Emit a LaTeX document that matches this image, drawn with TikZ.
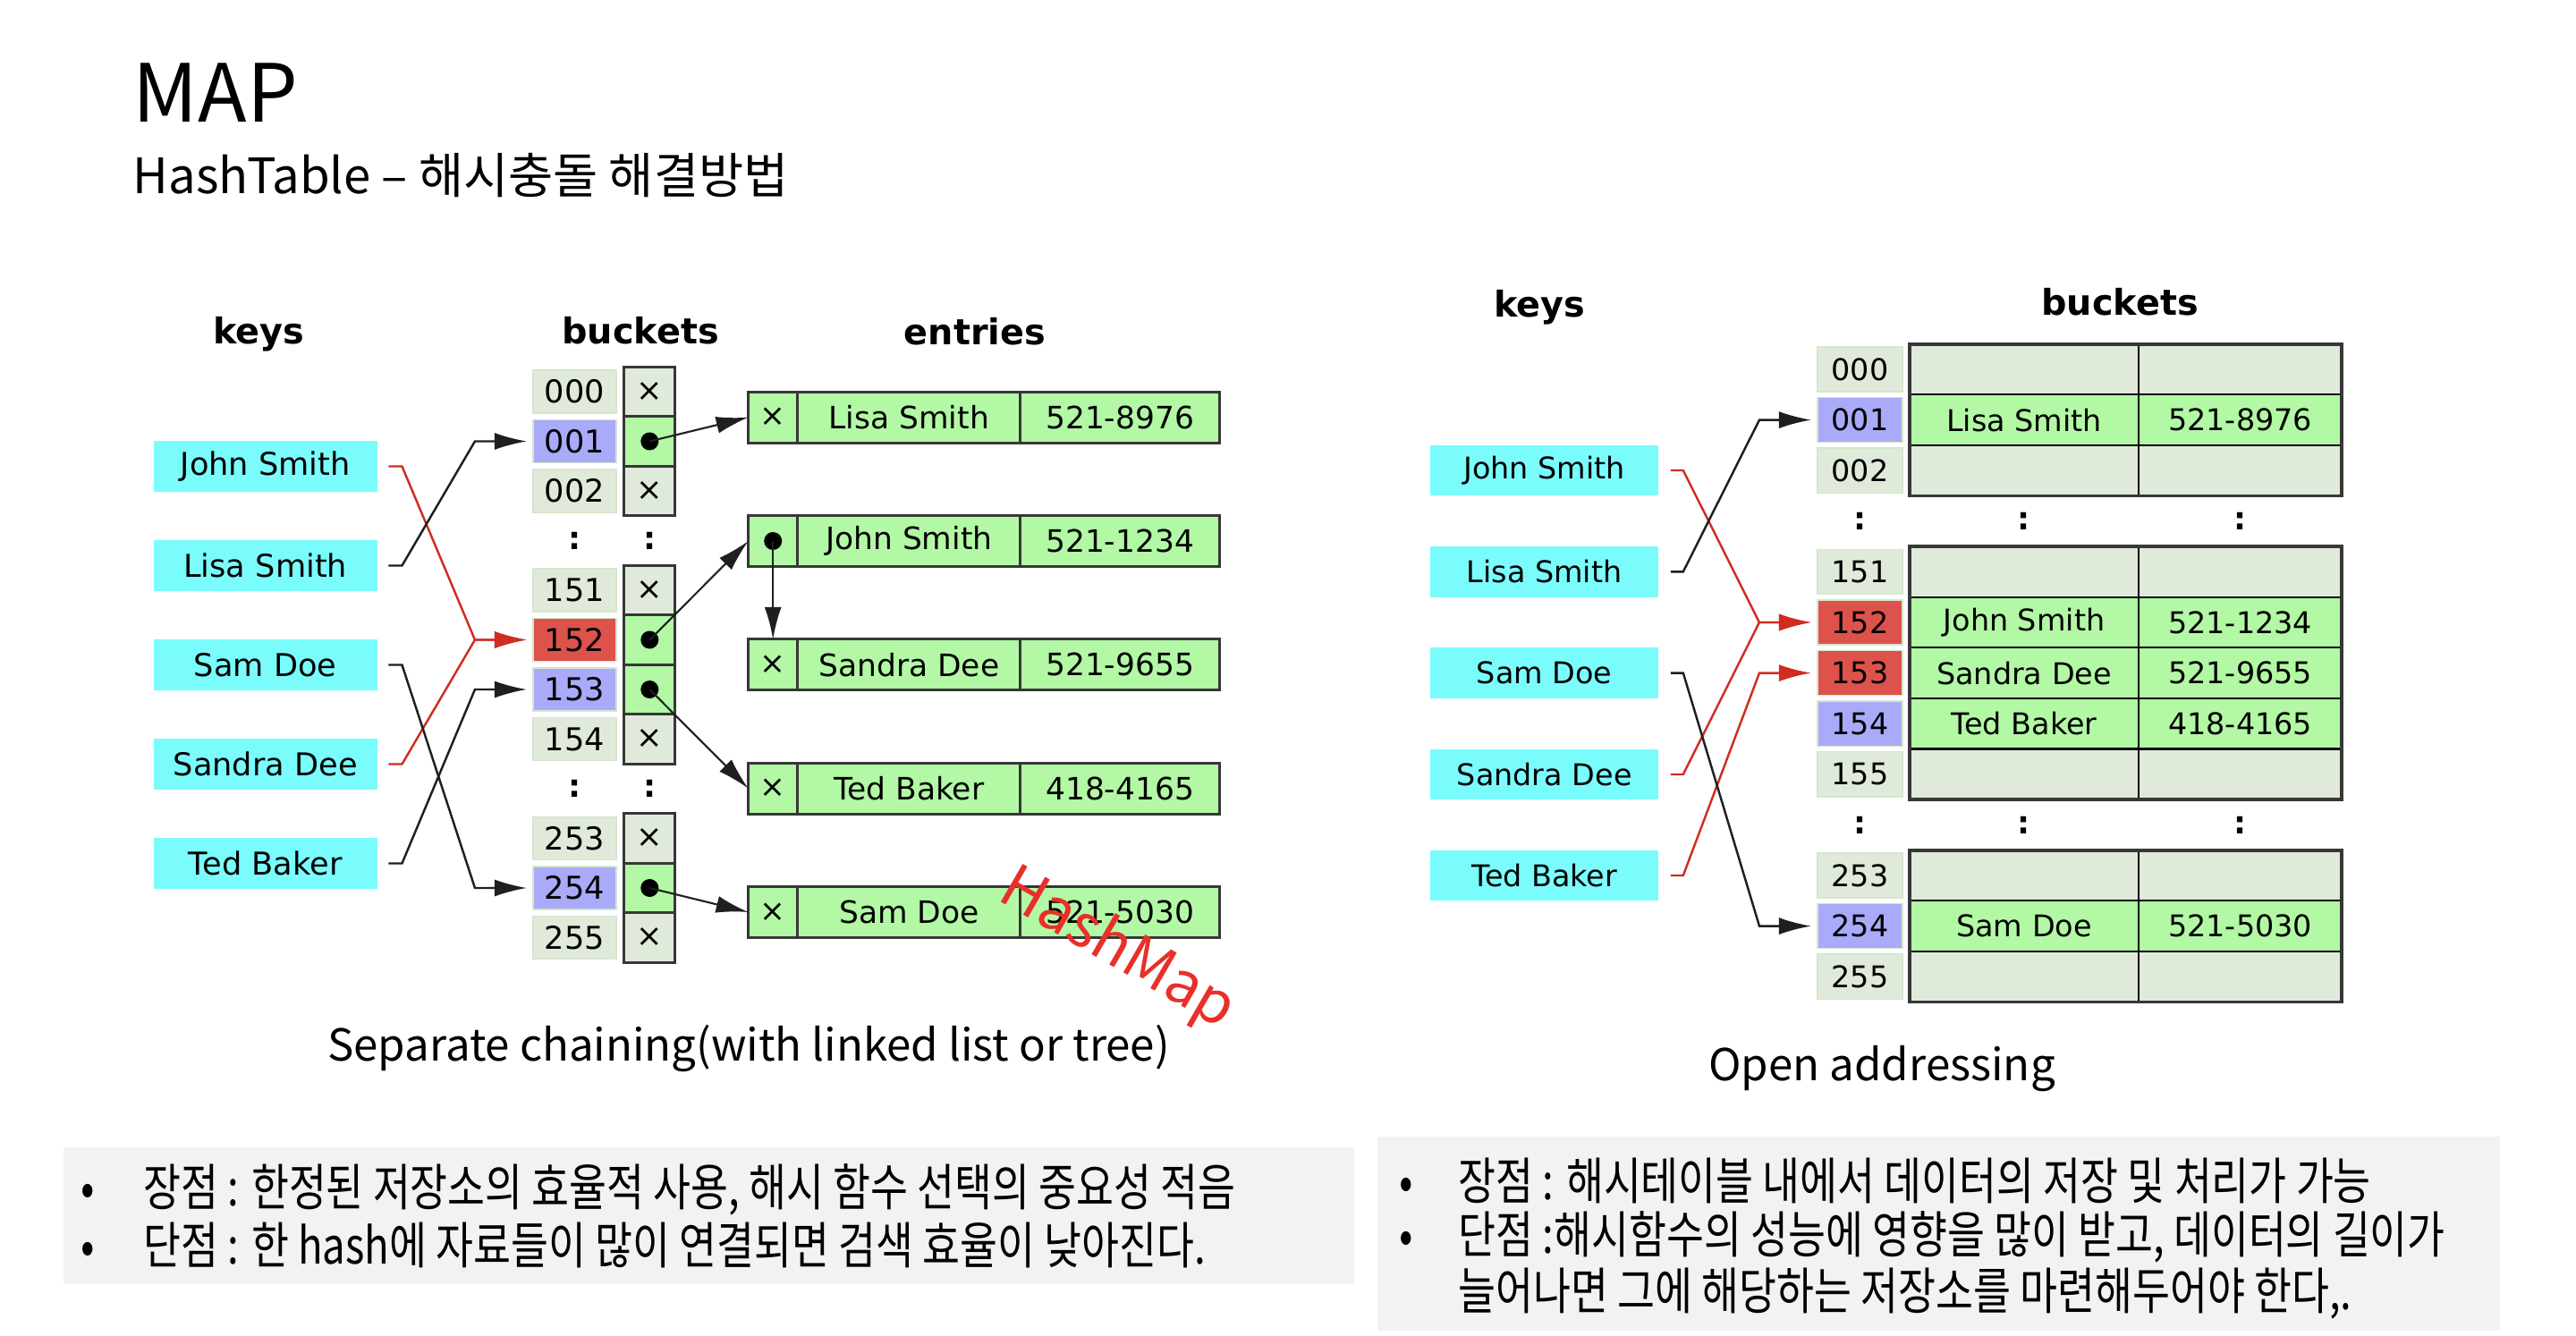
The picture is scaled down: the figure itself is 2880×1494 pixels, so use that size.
\documentclass[tikz,border=0pt]{standalone}
\usepackage{fontspec}
\setmainfont{DejaVu Sans}
\newfontfamily\hand{Noto Sans CJK KR}
\newfontfamily\handnarrow[FakeStretch=0.81]{Noto Sans CJK KR}
\usetikzlibrary{calc,positioning,arrows.meta}
\definecolor{keycyan}{RGB}{122,252,252}
\definecolor{cellgray}{RGB}{224,234,218}
\definecolor{cellline}{RGB}{212,230,204}
\definecolor{cellblue}{RGB}{170,170,250}
\definecolor{cellred}{RGB}{222,82,76}
\definecolor{cellgreen}{RGB}{178,248,165}
\definecolor{frame}{RGB}{55,55,55}
\definecolor{linkred}{RGB}{208,44,34}
\definecolor{notegray}{RGB}{242,242,242}
\definecolor{stampred}{RGB}{232,48,40}

\begin{document}
\begin{tikzpicture}[
  x=0.01cm, y=-0.01cm,
  hdr/.style={font=\fontsize{11.3}{13}\selectfont\bfseries, anchor=base},
  keybox/.style={fill=keycyan, minimum width=2.5cm, minimum height=0.56cm,
    inner sep=0pt, font=\fontsize{10}{12}\selectfont},
  idx/.style={fill=cellgray, draw=cellline, line width=0.4pt, minimum width=0.93cm,
    minimum height=0.48cm, inner sep=0pt, outer sep=0pt, font=\fontsize{10}{12}\selectfont},
  ptr/.style={draw=frame, line width=0.85pt, minimum width=0.573cm,
    minimum height=0.555cm, inner sep=0pt, outer sep=0pt, font=\fontsize{10}{12}\selectfont},
  ent/.style={fill=cellgreen, draw=frame, line width=0.85pt, minimum height=0.57cm,
    inner sep=0pt, outer sep=0pt, font=\fontsize{9.8}{12}\selectfont},
  oa/.style={draw=black, line width=0.6pt, minimum height=0.566cm,
    inner sep=0pt, outer sep=0pt, font=\fontsize{9.5}{12}\selectfont},
  vdots/.style={font=\fontsize{10}{12}\selectfont\bfseries},
  arr/.style={-{Latex[length=0.36cm, width=0.19cm]}, line width=0.7pt, black!88},
  redarr/.style={arr, linkred},
  hand/.style={font=\hand\fontsize{#1}{#1}\selectfont, inner sep=0pt},
  note/.style={font=\handnarrow\fontsize{16}{19}\selectfont, inner sep=0pt, anchor=west},
]
  \useasboundingbox (0,0) rectangle (2880,1494);

  % titles
  \node[hand=25.5, anchor=base west] (title) at (148,137) {MAP};
  \node[hand=15.5, anchor=base west] (subtitle) at (148,217) {HashTable – 해시충돌 해결방법};

  % ---------- separate chaining ----------
  \node[hdr] (lkeys) at (289.5,385) {keys};
  \node[hdr] (lbuckets) at (716,385) {buckets};
  \node[hdr] (lentries) at (1090,386) {entries};

  \foreach \k/\nm/\y in {john/John Smith/521.5, lisa/Lisa Smith/632.5, sam/Sam Doe/743.5,
                         sandra/Sandra Dee/854.5, ted/Ted Baker/965.5}
    \node[keybox] (k\k) at (296.7,\y) {\nm};

  \foreach \n/\y/\ic/\pc/\s in {000/438/cellgray/cellgray/×, 001/493.5/cellblue/cellgreen/{},
      002/549/cellgray/cellgray/×, 151/660/cellgray/cellgray/×, 152/715.5/cellred/cellgreen/{},
      153/771/cellblue/cellgreen/{}, 154/826.5/cellgray/cellgray/×, 253/937.5/cellgray/cellgray/×,
      254/993/cellblue/cellgreen/{}, 255/1048.5/cellgray/cellgray/×} {
    \node[idx, fill=\ic] (i\n) at (642.5,\y) {\n};
    \node[ptr, fill=\pc] (p\n) at (726.3,\y) {\s};
  }
  \foreach \n in {001,152,153,254}
    \fill (p\n) circle (0.1cm);

  \node[vdots] (id1) at ($(i002)!0.5!(i151)$) {:};
  \node[vdots] (pd1) at ($(p002)!0.5!(p151)$) {:};
  \node[vdots] (id2) at ($(i154)!0.5!(i253)$) {:};
  \node[vdots] (pd2) at ($(p154)!0.5!(p253)$) {:};

  \foreach \e/\y/\nm/\ph/\s in {lisa/466.7/Lisa Smith/521-8976/×, john/605/John Smith/521-1234/{},
      sandra/743.3/Sandra Dee/521-9655/×, ted/881.7/Ted Baker/418-4165/×, sam/1020/Sam Doe/521-5030/×} {
    \node[ent, minimum width=0.55cm] (\e-x) at (864.2,\y) {\s};
    \node[ent, minimum width=2.49cm, right=0pt of \e-x] (\e-n) {\nm};
    \node[ent, minimum width=2.224cm, right=0pt of \e-n] (\e-p) {\ph};
  }
  \fill (john-x) circle (0.1cm);

  \draw[redarr, shorten <=0.12cm, shorten >=0.07cm] (kjohn.east) -- ++(27,0) -- ($(i152.west)+(-65,0)$) -- (i152.west);
  \draw[redarr, shorten <=0.12cm, shorten >=0.07cm] (ksandra.east) -- ++(27,0) -- ($(i152.west)+(-65,0)$) -- (i152.west);
  \draw[arr, shorten <=0.12cm, shorten >=0.07cm] (klisa.east) -- ++(27,0) -- ($(i001.west)+(-65,0)$) -- (i001.west);
  \draw[arr, shorten <=0.12cm, shorten >=0.07cm] (ksam.east) -- ++(27,0) -- ($(i254.west)+(-65,0)$) -- (i254.west);
  \draw[arr, shorten <=0.12cm, shorten >=0.07cm] (kted.east) -- ++(27,0) -- ($(i153.west)+(-65,0)$) -- (i153.west);

  \draw[arr, line width=0.6pt] (p001.center) -- (lisa-x.west);
  \draw[arr, line width=0.6pt] (p152.center) -- (john-x.west);
  \draw[arr, line width=0.6pt] (p153.center) -- (ted-x.west);
  \draw[arr, line width=0.6pt] (p254.center) -- (sam-x.west);
  \draw[arr, line width=0.6pt] (john-x.center) -- (sandra-x.north);

  \node[hand=19, rotate=-30, text=stampred] (stamp) at (1249,1062) {HashMap};
  \node[hand=14, anchor=base] (lcap) at (837,1186) {Separate chaining(with linked list or tree)};

  % ---------- open addressing ----------
  \node[hdr] (rkeys) at (1721,355) {keys};
  \node[hdr] (rbuckets) at (2370,353) {buckets};

  \foreach \k/\nm/\y in {john/John Smith/526, lisa/Lisa Smith/639.3, sam/Sam Doe/752.6,
                         sandra/Sandra Dee/866, ted/Ted Baker/979}
    \node[keybox, minimum width=2.547cm, minimum height=0.567cm, font=\fontsize{9.5}{12}\selectfont] (r\k) at (1726.7,\y) {\nm};

  \foreach \n/\y/\ic/\cc/\nm/\ph in {000/413/cellgray/cellgray/{}/{}, 001/469.6/cellblue/cellgreen/Lisa Smith/521-8976,
      002/526.2/cellgray/cellgray/{}/{}, 151/639.4/cellgray/cellgray/{}/{}, 152/696/cellred/cellgreen/John Smith/521-1234,
      153/752.6/cellred/cellgreen/Sandra Dee/521-9655, 154/809.2/cellblue/cellgreen/Ted Baker/418-4165,
      155/865.8/cellgray/cellgray/{}/{}, 253/979/cellgray/cellgray/{}/{}, 254/1035.6/cellblue/cellgreen/Sam Doe/521-5030,
      255/1092.2/cellgray/cellgray/{}/{}} {
    \node[idx, fill=\ic, minimum width=0.95cm, minimum height=0.5cm, font=\fontsize{9.5}{12}\selectfont] (ri\n) at (2079.5,\y) {\n};
    \node[oa, fill=\cc, minimum width=2.56cm] (rn\n) at (2263,\y) {\nm};
    \node[oa, fill=\cc, minimum width=2.27cm, right=0pt of rn\n] (rp\n) {\ph};
  }
  \draw[frame, line width=1.1pt] (rn000.north west) rectangle (rp002.south east);
  \draw[frame, line width=1.1pt] (rn151.north west) rectangle (rp155.south east);
  \draw[frame, line width=1.1pt] (rn253.north west) rectangle (rp255.south east);

  \node[vdots] (rid1) at ($(ri002)!0.5!(ri151)$) {:};
  \node[vdots] (rnd1) at ($(rn002)!0.5!(rn151)$) {:};
  \node[vdots] (rpd1) at ($(rp002)!0.5!(rp151)$) {:};
  \node[vdots] (rid2) at ($(ri155)!0.5!(ri253)$) {:};
  \node[vdots] (rnd2) at ($(rn155)!0.5!(rn253)$) {:};
  \node[vdots] (rpd2) at ($(rp155)!0.5!(rp253)$) {:};

  \draw[redarr, shorten <=0.13cm, shorten >=0.07cm] (rjohn.east) -- ++(27,0) -- ($(ri152.west)+(-65,0)$) -- (ri152.west);
  \draw[redarr, shorten <=0.13cm, shorten >=0.07cm] (rsandra.east) -- ++(27,0) -- ($(ri152.west)+(-65,0)$) -- (ri152.west);
  \draw[redarr, shorten <=0.13cm, shorten >=0.07cm] (rted.east) -- ++(27,0) -- ($(ri153.west)+(-65,0)$) -- (ri153.west);
  \draw[arr, shorten <=0.13cm, shorten >=0.07cm] (rlisa.east) -- ++(27,0) -- ($(ri001.west)+(-65,0)$) -- (ri001.west);
  \draw[arr, shorten <=0.13cm, shorten >=0.07cm] (rsam.east) -- ++(27,0) -- ($(ri254.west)+(-65,0)$) -- (ri254.west);

  \node[hand=14, anchor=base] (rcap) at (2104,1208) {Open addressing};

  % ---------- notes ----------
  \node[fill=notegray, minimum width=14.43cm, minimum height=1.53cm] (noteL) at (792.5,1359.5) {};
  \node[note] (nl1) at (90,1330) {\makebox[0.7cm][l]{•}장점 : 한정된 저장소의 효율적 사용, 해시 함수 선택의 중요성 적음};
  \node[note] (nl2) at (90,1392) {\makebox[0.7cm][l]{•}단점 : 한 hash에 자료들이 많이 연결되면 검색 효율이 낮아진다.};

  \node[fill=notegray, minimum width=12.55cm, minimum height=2.17cm] (noteR) at (2167.5,1379.5) {};
  \node[note] (nr1) at (1564,1320) {\makebox[0.66cm][l]{•}장점 : 해시테이블 내에서 데이터의 저장 및 처리가 가능};
  \node[note] (nr2) at (1564,1383) {\makebox[0.66cm][l]{•}단점 :해시함수의 성능에 영향을 많이 받고, 데이터의 길이가};
  \node[note] (nr3) at (1564,1447) {\hspace{0.66cm}늘어나면 그에 해당하는 저장소를 마련해두어야 한다,.};
\end{tikzpicture}
\end{document}
